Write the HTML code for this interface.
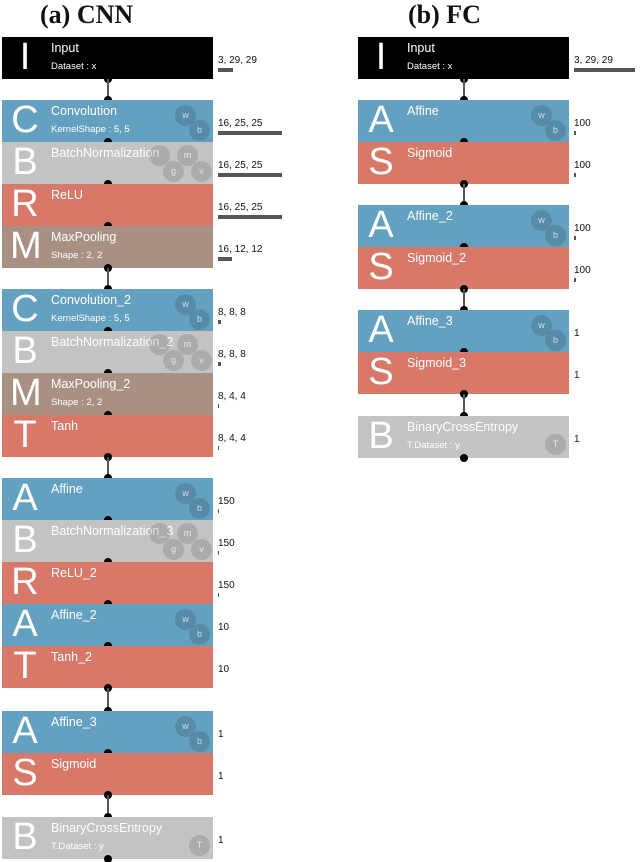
<!DOCTYPE html>
<html><head><meta charset="utf-8"><style>
body{margin:0;background:#fff;}
#c{position:relative;width:640px;height:862px;overflow:hidden;font-family:"Liberation Sans",sans-serif;}
.t{position:absolute;top:0px;font-family:"Liberation Serif",serif;font-weight:bold;font-size:26px;color:#111;}
.blk{position:absolute;height:42px;color:#fff;box-sizing:border-box;}
.L{position:absolute;left:8px;top:-2px;font-size:38px;line-height:44px;width:30px;text-align:center;}
.n{position:absolute;left:49px;top:4px;font-size:12.5px;}
.s{position:absolute;left:49px;top:24px;font-size:9.5px;}
.ci{position:absolute;width:21px;height:21px;border-radius:50%;background:rgba(0,0,0,0.12);font-size:9px;line-height:21px;text-align:center;color:rgba(255,255,255,0.7);}
.lab{position:absolute;font-size:10px;color:#111;}
.bar{position:absolute;height:4px;background:#555;}
.dot{position:absolute;width:8px;height:8px;border-radius:50%;background:#000;}
.ln{position:absolute;width:2px;background:#555;}
</style></head><body><div id="c">
<div class="t" style="left:40px">(a) CNN</div>
<div class="t" style="left:408px">(b) FC</div>
</div>
<script>
const COL={I:'#000',C:'#64a0c0',A:'#64a0c0',B:'#c3c3c3',R:'#d87868',S:'#d87868',T:'#d87868',M:'#a89182',X:'#c3c3c3'};
// [letter, name, sub, y, output label, bar width, params]
const cnn=[
['I','Input','Dataset : x',37,'3, 29, 29',15,''],
['C','Convolution','KernelShape : 5, 5',100,'16, 25, 25',64,'wb'],
['B','BatchNormalization','',142,'16, 25, 25',64,'bn'],
['R','ReLU','',184,'16, 25, 25',64,''],
['M','MaxPooling','Shape : 2, 2',226,'16, 12, 12',14,''],
['C','Convolution_2','KernelShape : 5, 5',289,'8, 8, 8',3,'wb'],
['B','BatchNormalization_2','',331,'8, 8, 8',3,'bn'],
['M','MaxPooling_2','Shape : 2, 2',373,'8, 4, 4',1,''],
['T','Tanh','',415,'8, 4, 4',1,''],
['A','Affine','',478,'150',1,'wb'],
['B','BatchNormalization_3','',520,'150',1,'bn'],
['R','ReLU_2','',562,'150',1,''],
['A','Affine_2','',604,'10',0,'wb'],
['T','Tanh_2','',646,'10',0,''],
['A','Affine_3','',711,'1',0,'wb'],
['S','Sigmoid','',753,'1',0,''],
['X','BinaryCrossEntropy','T.Dataset : y',817,'1',0,'t']];
const fc=[
['I','Input','Dataset : x',37,'3, 29, 29',61,''],
['A','Affine','',100,'100',2,'wb'],
['S','Sigmoid','',142,'100',2,''],
['A','Affine_2','',205,'100',2,'wb'],
['S','Sigmoid_2','',247,'100',2,''],
['A','Affine_3','',310,'1',0,'wb'],
['S','Sigmoid_3','',352,'1',0,''],
['X','BinaryCrossEntropy','T.Dataset : y',416,'1',0,'t']];
const c=document.getElementById('c');
function mk(cls,st,txt){const e=document.createElement('div');e.className=cls;e.style.cssText=st;if(txt!==undefined)e.textContent=txt;return e;}
function draw(list,x0,pre){
 const W=211,cx=x0+W/2;
 list.forEach((l,i)=>{
  const b=mk('blk',`left:${x0}px;top:${l[3]}px;width:${W}px;background:${COL[l[0]]}`);
  
  
  b.appendChild(mk('L','',l[0]==='X'?'B':l[0]));
  b.appendChild(mk('n','',l[1]));
  if(l[2])b.appendChild(mk('s','',l[2]));
  if(l[6]==='wb'){b.appendChild(mk('ci','left:173px;top:5px','w'));b.appendChild(mk('ci','left:187px;top:20px','b'));}
  if(l[6]==='bn'){b.appendChild(mk('ci','left:147px;top:3px',''));b.appendChild(mk('ci','left:175px;top:3px','m'));b.appendChild(mk('ci','left:161px;top:19px','g'));b.appendChild(mk('ci','left:189px;top:19px','v'));}
  if(l[6]==='t'){b.appendChild(mk('ci','left:187px;top:18px','T'));}
  c.appendChild(b);
  const lab=mk('lab',`left:${x0+216}px;top:${l[3]+18}px`,l[4]);
  
  
  c.appendChild(lab);
  c.appendChild(mk('bar',`left:${x0+216}px;top:${l[3]+31}px;width:${Math.max(l[5],1)}px;${l[5]?'':'display:none'}`));
  const bot=l[3]+42;
  const nx=list[i+1];
  c.appendChild(mk('dot',`left:${cx-4}px;top:${bot-4}px`));
  if(nx&&nx[3]>bot+5){
   c.appendChild(mk('ln',`left:${cx-1}px;top:${bot}px;height:${nx[3]-bot}px`));
   c.appendChild(mk('dot',`left:${cx-4}px;top:${nx[3]-4}px`));
  }
 });
}
draw(cnn,2,'cnn');
draw(fc,358,'fc');
</script></body></html>
